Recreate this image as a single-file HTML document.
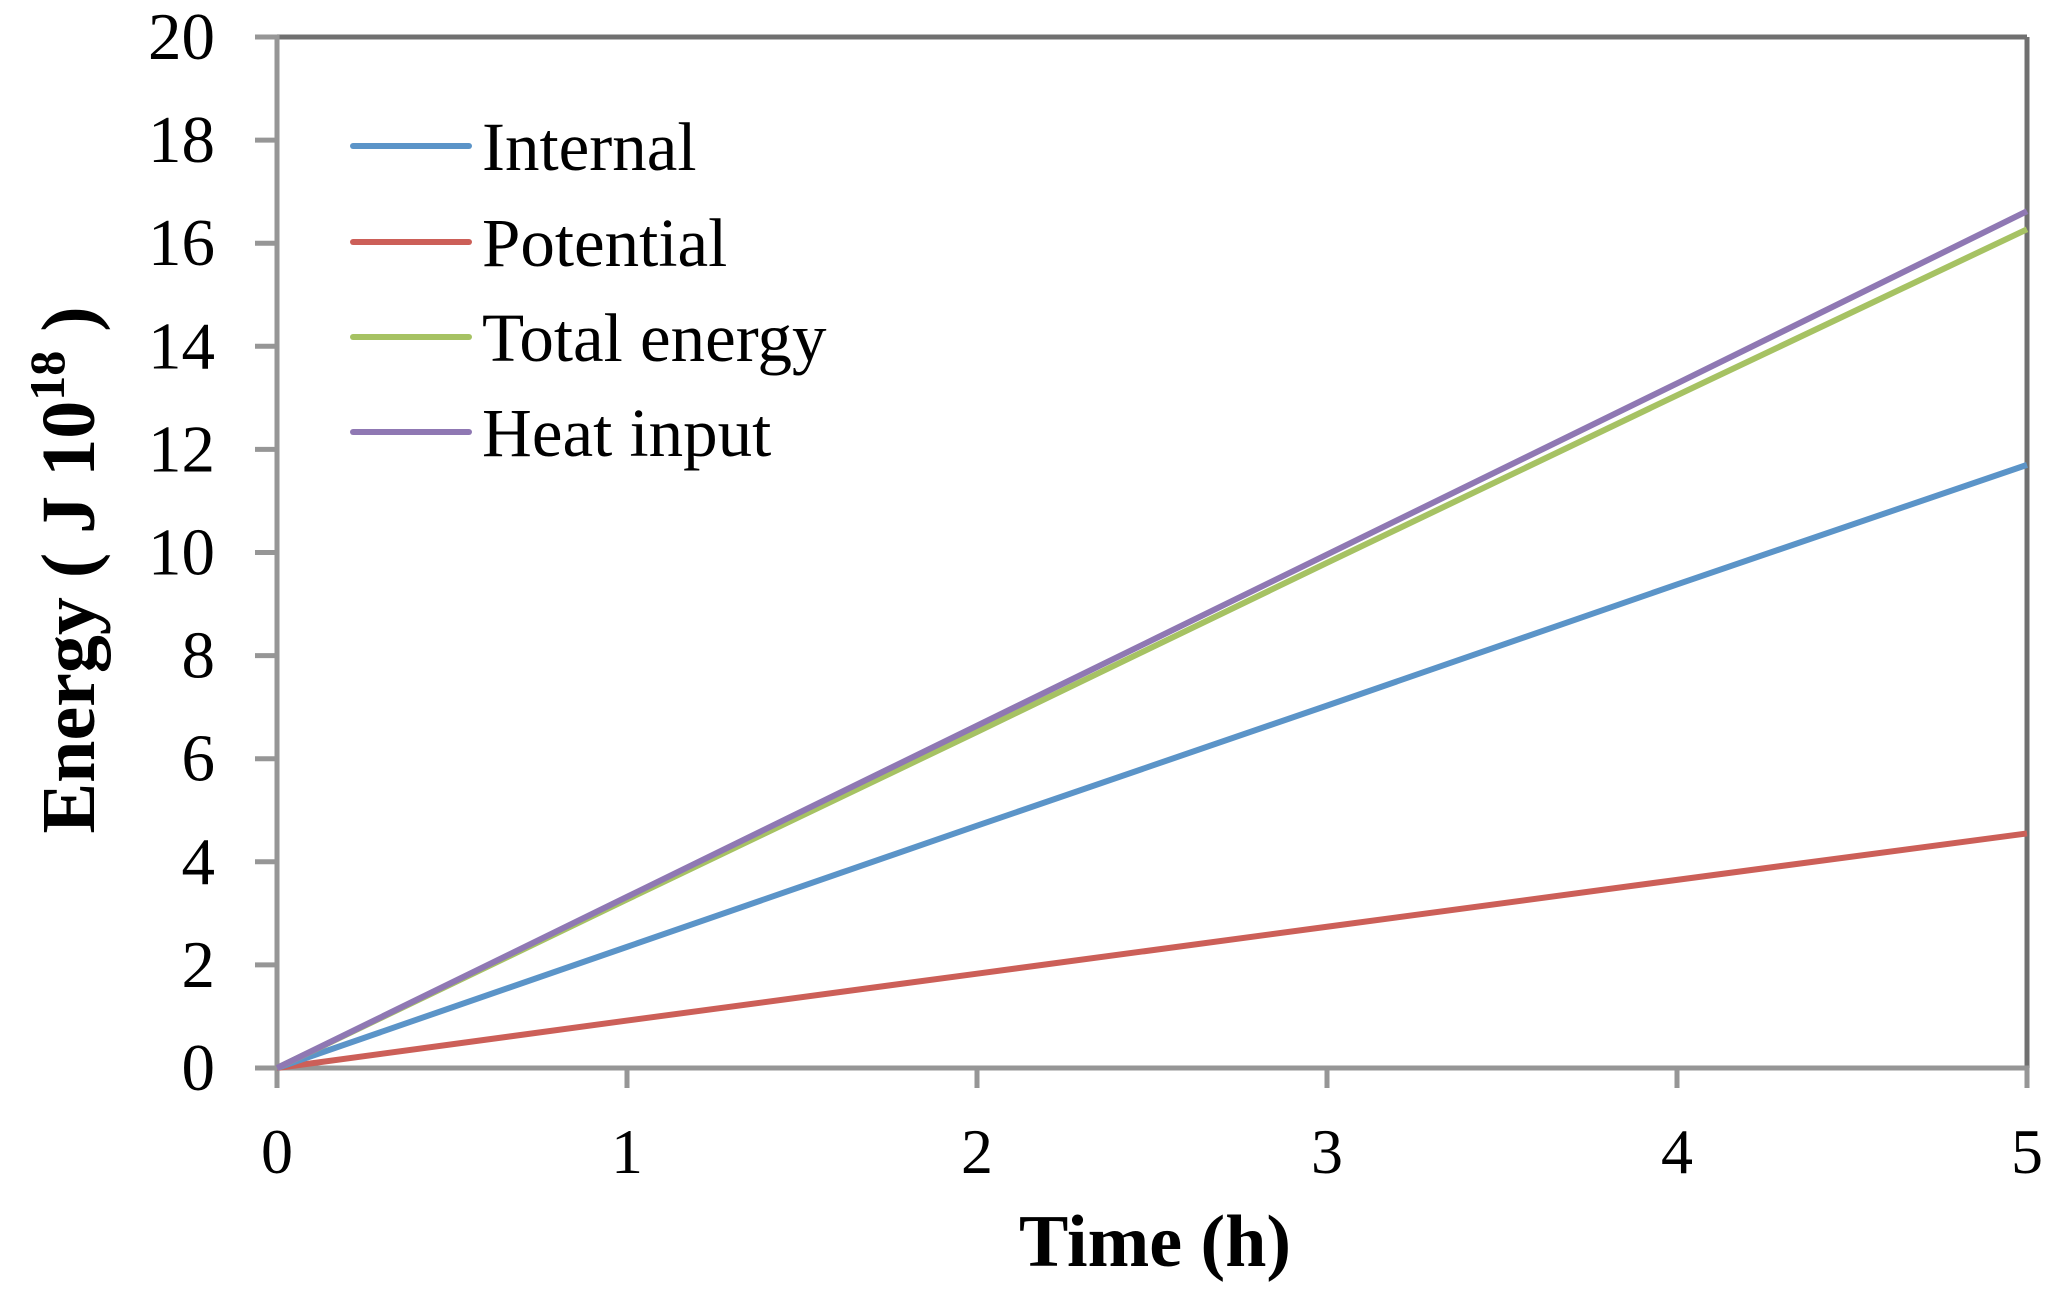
<!DOCTYPE html>
<html><head><meta charset="utf-8"><style>
body{margin:0;background:#fff;}
svg{display:block;}
text{font-family:"Liberation Serif",serif;fill:#000;}
</style></head><body>
<svg id="chart" width="2066" height="1294" viewBox="0 0 2066 1294" xmlns="http://www.w3.org/2000/svg">
<g id="plot"></g>
</svg>
<script>
const xTicks = [0,1,2,3,4,5];
const yTicks = [0,2,4,6,8,10,12,14,16,18,20];
const timeH = [0,1,2,3,4,5];
const internalVals = [0,2.35,4.7,7.03,9.38,11.7];
const potentialVals = [0,0.92,1.83,2.74,3.65,4.55];
const totalVals = [0,3.27,6.52,9.8,13.05,16.27];
const heatVals = [0,3.32,6.64,9.96,13.28,16.62];
const seriesNames = ["Internal","Potential","Total energy","Heat input"];

const NS="http://www.w3.org/2000/svg";
const L=277,R=2027,T=37,B=1068;
const sx=v=>L+(v-0)/(5-0)*(R-L);
const sy=v=>B-(v-0)/(20-0)*(B-T);
const g=document.getElementById('plot');
function mk(tag,attrs,parent){const e=document.createElementNS(NS,tag);for(const k in attrs)e.setAttribute(k,attrs[k]);(parent||g).appendChild(e);return e;}

let e;
e=mk('line',{x1:L,y1:T,x2:R,y2:T,stroke:'#707070','stroke-width':5});


e=mk('line',{x1:R,y1:T,x2:R,y2:B,stroke:'#707070','stroke-width':5});


e=mk('line',{x1:L,y1:T-2,x2:L,y2:B+20,stroke:'#969696','stroke-width':5});


e=mk('line',{x1:L-20,y1:B,x2:R+2,y2:B,stroke:'#969696','stroke-width':5});



yTicks.forEach(v=>{
  const y=sy(v);
  let t=mk('line',{x1:L-22,y1:y,x2:L,y2:y,stroke:'#969696','stroke-width':5});
  
  
  let tx=mk('text',{x:215,y:y+22,'text-anchor':'end','font-size':67});
  tx.textContent=v;
  
  
});
xTicks.forEach(v=>{
  const x=sx(v);
  let t=mk('line',{x1:x,y1:B,x2:x,y2:B+20,stroke:'#969696','stroke-width':5});
  
  
  let tx=mk('text',{x:x,y:1173,'text-anchor':'middle','font-size':64});
  tx.textContent=v;
  
  
});

const series=[
  {name:seriesNames[0],vals:internalVals,color:'#5b94c8',id:'internal'},
  {name:seriesNames[1],vals:potentialVals,color:'#cc5f58',id:'potential'},
  {name:seriesNames[2],vals:totalVals,color:'#a6c263',id:'total-energy'},
  {name:seriesNames[3],vals:heatVals,color:'#8f78b3',id:'heat-input'}
];
const drawOrder=[1,0,2,3];
drawOrder.forEach(i=>{
  const s=series[i];
  const pts=timeH.map((t,j)=>sx(t)+','+sy(s.vals[j])).join(' ');
  let p=mk('polyline',{points:pts,fill:'none',stroke:s.color,'stroke-width':6,'stroke-linejoin':'round'});
  
  
});
const legY=[146,242,337,432];
series.forEach((s,i)=>{
  let l=mk('line',{x1:353,y1:legY[i],x2:469,y2:legY[i],stroke:s.color,'stroke-width':6,'stroke-linecap':'round'});
  
  
  let t=mk('text',{x:482,y:legY[i]+24,'font-size':69});
  t.textContent=s.name;
  
  
});

let xt=mk('text',{x:1155,y:1266,'text-anchor':'middle','font-size':74,'font-weight':'bold'});
xt.textContent='Time (h)';


let yt=mk('text',{x:0,y:0,'text-anchor':'middle','font-size':76,'font-weight':'bold',transform:'translate(94,570) rotate(-90)'});


yt.innerHTML='Energy ( J 10<tspan font-size="50" dy="-30">18</tspan><tspan dy="30"> )</tspan>';
</script>
</body></html>
